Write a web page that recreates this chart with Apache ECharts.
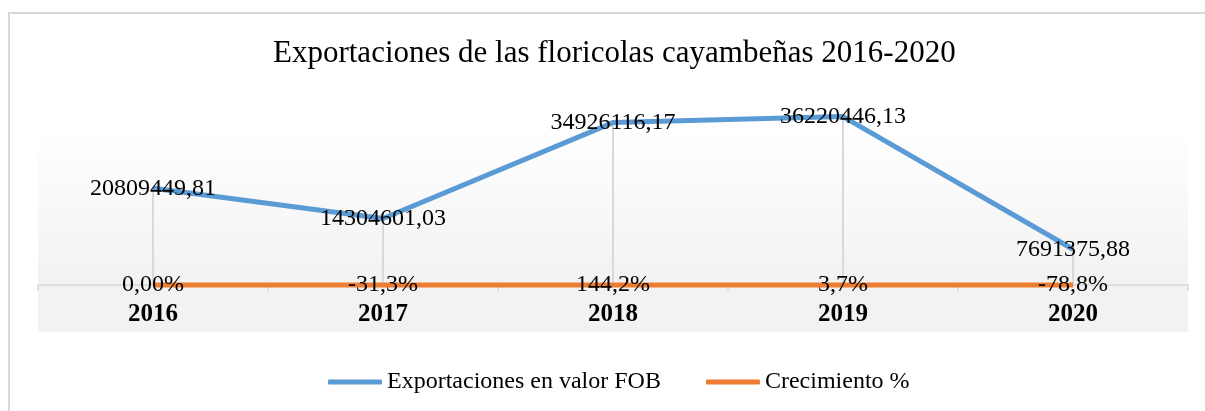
<!DOCTYPE html>
<html>
<head>
<meta charset="utf-8">
<script src="https://cdn.jsdelivr.net/npm/echarts@6/dist/echarts.min.js"></script>
<style>
html,body{margin:0;padding:0;background:#fff;}
#main{width:1205px;height:411px;}
</style>
</head>
<body>
<div id="main"></div>
<script>
var anios = ['2016', '2017', '2018', '2019', '2020'];
var exportaciones = [20809449.81, 14304601.03, 34926116.17, 36220446.13, 7691375.88];
var crecimiento = [0.00, -31.3, 144.2, 3.7, -78.8];
var crecimientoTexto = ['0,00%', '-31,3%', '144,2%', '3,7%', '-78,8%'];

var fuente = 'Liberation Serif';
var myChart = echarts.init(document.getElementById('main'));

option = {
	backgroundColor: '#ffffff',
	animation: false,
	graphic: [
		{
			type: 'line',
			z: -10,
			shape: { x1: 8, y1: 13, x2: 1205, y2: 13 },
			style: { stroke: '#d9d9d9', lineWidth: 2 }
		},
		{
			type: 'line',
			z: -10,
			shape: { x1: 9, y1: 13, x2: 9, y2: 411 },
			style: { stroke: '#d9d9d9', lineWidth: 2 }
		},
		{
			type: 'rect',
			z: -5,
			shape: { x: 38, y: 128, width: 1150, height: 204 },
			style: {
				fill: new echarts.graphic.LinearGradient(0, 0, 0, 1, [
					{ offset: 0, color: '#ffffff' },
					{ offset: 0.75, color: '#f2f2f2' },
					{ offset: 1, color: '#f2f2f2' }
				])
			}
		}
	],
	title: {
		text: 'Exportaciones de las floricolas cayambeñas 2016-2020',
		left: 273,
		top: 38,
		padding: 0,
		textStyle: { fontFamily: fuente, fontSize: 31, fontWeight: 'normal', color: '#000' }
	},
	legend: {
		data: ['Exportaciones en valor FOB', 'Crecimiento %'],
		left: 328,
		top: 370,
		padding: 0,
		itemWidth: 54,
		itemHeight: 5,
		itemGap: 45,
		icon: 'roundRect',
		textStyle: { fontFamily: fuente, fontSize: 24, color: '#000' }
	},
	grid: { left: 38, right: 17, top: 99, bottom: 126 },
	xAxis: {
		type: 'category',
		data: anios,
		axisLine: { lineStyle: { color: '#d9d9d9', width: 1.5 } },
		axisTick: { show: true, length: 6, lineStyle: { color: '#d9d9d9', width: 1.5 } },
		axisLabel: { margin: 17, fontFamily: fuente, fontSize: 25, fontWeight: 'bold', color: '#000' },
		splitLine: { show: false }
	},
	yAxis: {
		type: 'value',
		min: 0,
		max: 40000000,
		show: false,
		splitLine: { show: false }
	},
	series: [
		{
			name: 'lineas',
			type: 'bar',
			data: exportaciones,
			barWidth: 2,
			silent: true,
			z: 1,
			itemStyle: { color: '#d9d9d9' }
		},
		{
			name: 'Exportaciones en valor FOB',
			type: 'line',
			data: exportaciones,
			color: '#5b9bd5',
			symbol: 'circle',
			symbolSize: 1,
			clip: false,
			z: 3,
			lineStyle: { width: 5, color: '#5b9bd5' },
			label: {
				show: true,
				position: 'inside',
				fontFamily: fuente,
				fontSize: 24,
				color: '#000',
				formatter: function (p) {
					return p.value.toFixed(2).replace('.', ',');
				}
			}
		},
		{
			name: 'Crecimiento %',
			type: 'line',
			data: crecimiento,
			color: '#ed7d31',
			symbol: 'circle',
			symbolSize: 1,
			clip: false,
			z: 4,
			lineStyle: { width: 5, color: '#ed7d31' },
			label: {
				show: true,
				position: 'inside',
				fontFamily: fuente,
				fontSize: 24,
				color: '#000',
				formatter: function (p) {
					return crecimientoTexto[p.dataIndex];
				}
			}
		}
	]
};
myChart.setOption(option, true);
</script>
</body>
</html>
